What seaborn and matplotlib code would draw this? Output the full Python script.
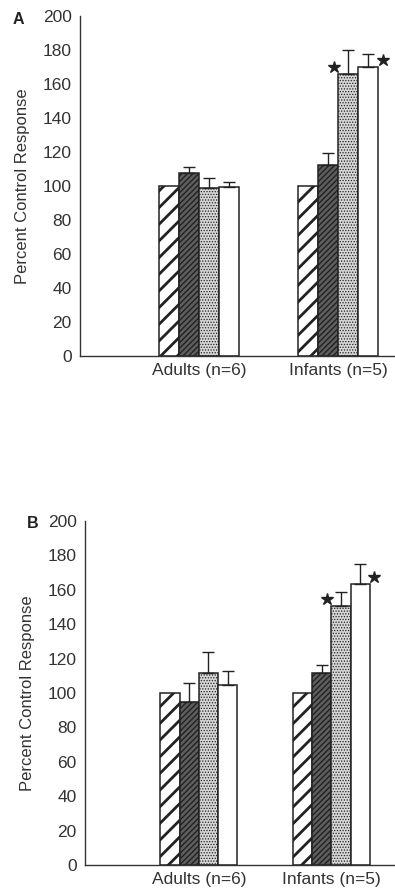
import numpy as np
import pandas as pd
import seaborn as sns
import matplotlib.pyplot as plt
from matplotlib.ticker import MultipleLocator

# Data
groups = ["Adults (n=6)", "Infants (n=5)"]
conditions = ["cond1", "cond2", "cond3", "cond4"]

panel_a_means = {
    "Adults (n=6)": [100, 107.5, 98.5, 99.5],
    "Infants (n=5)": [100, 112, 166, 170],
}
panel_a_errors = {
    "Adults (n=6)": [0, 3.5, 6, 2.5],
    "Infants (n=5)": [0, 7.5, 14, 7.5],
}
panel_b_means = {
    "Adults (n=6)": [100, 94.5, 111.5, 104.5],
    "Infants (n=5)": [100, 111.5, 150.5, 163.5],
}
panel_b_errors = {
    "Adults (n=6)": [0, 11.5, 12.5, 8],
    "Infants (n=5)": [0, 4.5, 8, 11.5],
}
# which bars carry a significance star, and on which side
panel_a_stars = {("Infants (n=5)", "cond3"): "left", ("Infants (n=5)", "cond4"): "right"}
panel_b_stars = {("Infants (n=5)", "cond3"): "left", ("Infants (n=5)", "cond4"): "right"}

face_colors = ["white", "#5e5e5e", "#d6d6d6", "white"]
hatches = ["//", "//////", "......", ""]
hatch_widths = [2.0, 1.0, 0.6, 1.0]
text_color = "#333333"


def to_frame(means: dict, errors: dict) -> pd.DataFrame:
    rows = []
    for group in groups:
        for cond, value, err in zip(conditions, means[group], errors[group]):
            rows.append({"group": group, "condition": cond, "value": value, "err": err})
    return pd.DataFrame(rows)


def draw_panel(ax, frame: pd.DataFrame, stars: dict, xlim: tuple) -> None:
    sns.barplot(
        data = frame, x = "group", y = "value", hue = "condition",
        order = groups, hue_order = conditions, ax = ax,
        width = 0.58, dodge = True, legend = False, errorbar = None,
        palette = ["white"] * 4, edgecolor = "#222222", linewidth = 1.1, saturation = 1,
    )
    for i, cond in enumerate(conditions):
        container = ax.containers[i]
        for j, patch in enumerate(container):
            patch.set_facecolor(face_colors[i])
            patch.set_hatch(hatches[i])
            if hasattr(patch, "set_hatch_linewidth"):
                patch.set_hatch_linewidth(hatch_widths[i])
            row = frame[(frame["group"] == groups[j]) & (frame["condition"] == cond)].iloc[0]
            xc = patch.get_x() + patch.get_width() / 2
            if row["err"] > 0:
                ax.errorbar(
                    xc, row["value"], yerr = [[0], [row["err"]]], fmt = "none",
                    ecolor = "#222222", elinewidth = 1.0, capsize = 4, capthick = 1.0,
                )
            side = stars.get((groups[j], cond))
            if side is not None:
                dx = -patch.get_width() * 0.72 if side == "left" else patch.get_width() * 0.72
                ax.plot(xc + dx, row["value"] + 4, marker = "*", markersize = 9,
                        color = "#222222", linestyle = "none")

    ax.set_xlim(*xlim)
    ax.set_ylim(0, 200)
    ax.yaxis.set_major_locator(MultipleLocator(20))
    ax.yaxis.set_minor_locator(MultipleLocator(10))
    ax.tick_params(axis = "y", which = "major", length = 4, width = 0.9, pad = 2,
                   labelsize = 12.5, labelcolor = text_color, color = "#333333")
    ax.tick_params(axis = "y", which = "minor", length = 2.5, width = 0.8, color = "#333333")
    ax.tick_params(axis = "x", length = 0, labelsize = 12.5, labelcolor = text_color, pad = 5)
    ax.set_xlabel("")
    ax.set_ylabel("Percent Control Response", fontsize = 12, color = text_color, labelpad = 9)
    for side in ["top", "right"]:
        ax.spines[side].set_visible(False)
    for side in ["left", "bottom"]:
        ax.spines[side].set_color("#333333")
        ax.spines[side].set_linewidth(1.0)


sns.set_theme(style = "white")
plt.rcParams["font.family"] = ["Liberation Sans", "DejaVu Sans"]
plt.rcParams["hatch.linewidth"] = 1.0
plt.rcParams["hatch.color"] = "#222222"

fig = plt.figure(figsize = (3.95, 8.89), dpi = 100)
ax_a = fig.add_axes([0.203, 0.600, 0.797, 0.382])
ax_b = fig.add_axes([0.215, 0.027, 0.785, 0.387])

draw_panel(ax_a, to_frame(panel_a_means, panel_a_errors), panel_a_stars, (-0.856, 1.41))
draw_panel(ax_b, to_frame(panel_b_means, panel_b_errors), panel_b_stars, (-0.86, 1.48))

fig.text(13 / 395, 1 - 19 / 889, "A", fontsize = 11.5, fontweight = "bold",
         color = "#222222", ha = "left", va = "center")
fig.text(27 / 395, 1 - 524 / 889, "B", fontsize = 11.5, fontweight = "bold",
         color = "#222222", ha = "left", va = "center")

fig.savefig("out.png", dpi = 100)
